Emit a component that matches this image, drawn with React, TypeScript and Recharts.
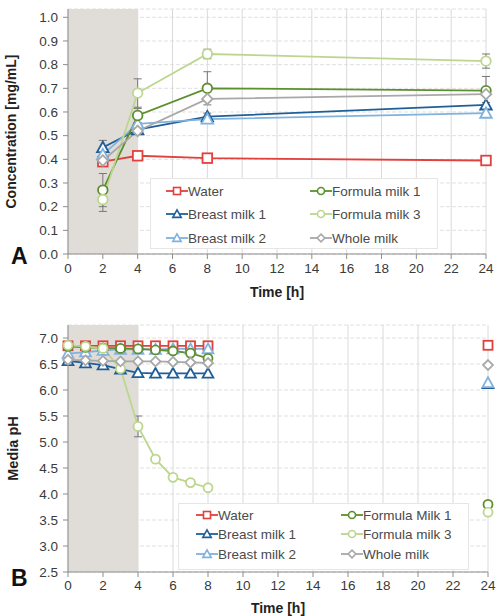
import React from "react"
import { LineChart, Line, XAxis, YAxis, CartesianGrid, ReferenceArea, ErrorBar, Label } from "recharts"

// ---- Panel A: concentration over time ----
const hoursA = [2, 4, 8, 24]
const waterA = [0.39, 0.415, 0.405, 0.395]
const breast1A = [0.45, 0.525, 0.58, 0.63]
const breast2A = [0.42, 0.55, 0.57, 0.595]
const formula1A = [0.27, 0.585, 0.7, 0.69]
const formula3A = [0.23, 0.68, 0.845, 0.815]
const wholeA = [0.395, 0.52, 0.655, 0.675]
const breast1ErrA = [0.03, 0.01, 0.015, 0.01]
const formula1ErrA = [0.07, 0.03, 0.07, 0.06]
const formula3ErrA = [0.05, 0.06, 0.02, 0.03]
const ticksYA = [0, 0.1, 0.2, 0.3, 0.4, 0.5, 0.6, 0.7, 0.8, 0.9, 1.0]

// ---- Panel B: media pH over time ----
const hoursB = [0, 1, 2, 3, 4, 5, 6, 7, 8, 24]
const waterB = [6.85, 6.85, 6.85, 6.85, 6.85, 6.85, 6.85, 6.85, 6.85, 6.86]
const breast1B = [6.56, 6.52, 6.48, 6.4, 6.33, 6.32, 6.32, 6.32, 6.32, 6.12]
const breast2B = [6.7, 6.73, 6.76, 6.78, 6.78, 6.78, 6.79, 6.79, 6.79, 6.14]
const formula1B = [6.84, 6.82, 6.81, 6.8, 6.79, 6.77, 6.75, 6.71, 6.61, 3.8]
const formula3B = [6.86, 6.84, 6.8, 6.41, 5.3, 4.67, 4.32, 4.22, 4.12, 3.65]
const wholeB = [6.58, 6.57, 6.56, 6.55, 6.55, 6.55, 6.54, 6.53, 6.52, 6.48]
const formula3ErrB = [0, 0, 0.02, 0.04, 0.2, 0.03, 0.02, 0.02, 0.02, 0.02]
const ticksYB = [2.5, 3.0, 3.5, 4.0, 4.5, 5.0, 5.5, 6.0, 6.5, 7.0]
const GAP_HOUR = 16

const ticksX = [0, 2, 4, 6, 8, 10, 12, 14, 16, 18, 20, 22, 24]

type Shape = "square" | "circle" | "triangle" | "diamond"

const SERIES: { key: string; color: string; shape: Shape }[] = [
  { key: "water", color: "#e2403d", shape: "square" },
  { key: "breast1", color: "#1f5f99", shape: "triangle" },
  { key: "breast2", color: "#80b2de", shape: "triangle" },
  { key: "formula1", color: "#5c8f2e", shape: "circle" },
  { key: "formula3", color: "#bcd68e", shape: "circle" },
  { key: "whole", color: "#a8a8a8", shape: "diamond" },
]

const NAMES_A: Record<string, string> = {
  water: "Water",
  breast1: "Breast milk 1",
  breast2: "Breast milk 2",
  formula1: "Formula milk 1",
  formula3: "Formula milk 3",
  whole: "Whole milk",
}
const NAMES_B: Record<string, string> = { ...NAMES_A, formula1: "Formula Milk 1" }

const dataA = hoursA.map((h, i) => ({
  h,
  water: waterA[i],
  breast1: breast1A[i],
  breast2: breast2A[i],
  formula1: formula1A[i],
  formula3: formula3A[i],
  whole: wholeA[i],
  breast1Err: breast1ErrA[i],
  formula1Err: formula1ErrA[i],
  formula3Err: formula3ErrA[i],
}))

const rowsB = hoursB.map((h, i) => ({
  h,
  water: waterB[i],
  breast1: breast1B[i],
  breast2: breast2B[i],
  formula1: formula1B[i],
  formula3: formula3B[i],
  whole: wholeB[i],
  formula3Err: formula3ErrB[i],
}))
// empty row so the 8 h and 24 h points are not joined
const dataB = [...rowsB.slice(0, 9), { h: GAP_HOUR }, rowsB[9]]

const FONT = "'Liberation Sans', Arial, sans-serif"
const TEXT = "#3a3a3a"

function Marker({ shape, cx, cy, color, r, sw }: { shape: Shape; cx: number; cy: number; color: string; r: number; sw: number }) {
  if (shape === "square")
    return <rect x={cx - r} y={cy - r} width={r * 2} height={r * 2} fill="#fff" stroke={color} strokeWidth={sw} />
  if (shape === "circle") return <circle cx={cx} cy={cy} r={r} fill="#fff" stroke={color} strokeWidth={sw} />
  if (shape === "triangle") {
    const h = r * 1.2
    return (
      <polygon
        points={`${cx},${cy - h} ${cx + h},${cy + h * 0.8} ${cx - h},${cy + h * 0.8}`}
        fill="#fff"
        stroke={color}
        strokeWidth={sw}
        strokeLinejoin="miter"
      />
    )
  }
  const d = r * 1.1
  return <polygon points={`${cx},${cy - d} ${cx + d},${cy} ${cx},${cy + d} ${cx - d},${cy}`} fill="#fff" stroke={color} strokeWidth={sw} />
}

function makeDot(shape: Shape, color: string, r: number) {
  return (props: any) => {
    const k = `${shape}-${color}-${props.index}`
    if (props.cx == null || props.cy == null || props.value == null) return <g key={k} />
    return (
      <g key={k}>
        <Marker shape={shape} cx={props.cx} cy={props.cy} color={color} r={r} sw={1.8} />
      </g>
    )
  }
}

function LegendBox({
  names,
  left,
  top,
  width,
  height,
  cols,
  rows,
}: {
  names: Record<string, string>
  left: number
  top: number
  width: number
  height: number
  cols: number[]
  rows: number[]
}) {
  return (
    <div
      style={{
        position: "absolute",
        left,
        top,
        width,
        height,
        background: "#fff",
        border: "1px solid #e6e6e6",
        boxSizing: "border-box",
      }}
    >
      {SERIES.map((s, i) => {
        const c = i < 3 ? 0 : 1
        const r = i % 3
        return (
          <div
            key={s.key}
            style={{
              position: "absolute",
              left: cols[c] - left,
              top: rows[r] - top - 10,
              height: 20,
              display: "flex",
              alignItems: "center",
              whiteSpace: "nowrap",
              fontFamily: FONT,
              fontSize: 13.5,
              color: "#4a4a4a",
            }}
          >
            <svg width={22} height={12} style={{ display: "block" }}>
              <line x1={0} y1={6} x2={22} y2={6} stroke={s.color} strokeWidth={1.8} />
              <Marker shape={s.shape} cx={11} cy={6} color={s.color} r={3.5} sw={1.6} />
            </svg>
            <span>{names[s.key]}</span>
          </div>
        )
      })}
    </div>
  )
}

const axisTick = { fontSize: 13.5, fill: TEXT, fontFamily: FONT }
const titleStyle = { fontSize: 14, fontWeight: 700, fill: "#222", fontFamily: FONT }

export default function App() {
  return (
    <div style={{ position: "absolute", left: 0, top: 0, width: 496, height: 616, background: "#fff", fontFamily: FONT }}>
      {/* Panel A */}
      <div style={{ position: "absolute", left: 0, top: 0 }}>
        <LineChart width={496} height={302} data={dataA} margin={{ top: 9, right: 10, left: 0, bottom: 0 }}>
          <CartesianGrid vertical={false} stroke="#e0e0e0" strokeDasharray="4 2" />
          <CartesianGrid horizontal={false} stroke="#dadada" />
          <ReferenceArea x1={0} x2={4} fill="#e0ddd8" fillOpacity={1} stroke="none" ifOverflow="hidden" />
          <XAxis
            type="number"
            dataKey="h"
            domain={[0, 24]}
            ticks={ticksX}
            interval={0}
            stroke="#8c8c8c"
            tickSize={5}
            tickMargin={4}
            tick={axisTick}
            height={48}
          >
            <Label value="Time [h]" position="insideBottom" offset={5} style={titleStyle} />
          </XAxis>
          <YAxis
            type="number"
            domain={[0, 1.035]}
            ticks={ticksYA}
            interval={0}
            allowDataOverflow
            width={68}
            stroke="#8c8c8c"
            tickSize={5}
            tickMargin={5}
            tick={axisTick}
            tickFormatter={(v: number) => v.toFixed(1)}
          >
            <Label
              value="Concentration [mg/mL]"
              angle={-90}
              position="insideLeft"
              offset={11}
              style={{ ...titleStyle, textAnchor: "middle" }}
            />
          </YAxis>
          {SERIES.map((s) => (
            <Line
              key={s.key}
              type="linear"
              dataKey={s.key}
              stroke={s.color}
              strokeWidth={1.8}
              dot={makeDot(s.shape, s.color, 4.8)}
              activeDot={false}
              isAnimationActive={false}
            >
              {(s.key === "breast1" || s.key === "formula1" || s.key === "formula3") && (
                <ErrorBar dataKey={`${s.key}Err`} width={4} strokeWidth={1} stroke="#777" direction="y" />
              )}
            </Line>
          ))}
        </LineChart>
      </div>
      <LegendBox names={NAMES_A} left={150} top={178} width={288} height={71} cols={[165, 309]} rows={[190, 213, 237]} />
      <div style={{ position: "absolute", left: 11, top: 243, fontSize: 23, fontWeight: 700, color: "#111", fontFamily: FONT }}>A</div>

      {/* Panel B */}
      <div style={{ position: "absolute", left: 0, top: 310 }}>
        <LineChart width={496} height={306} data={dataB} margin={{ top: 15, right: 8, left: 0, bottom: 0 }}>
          <CartesianGrid vertical={false} stroke="#e0e0e0" strokeDasharray="4 2" />
          <CartesianGrid horizontal={false} stroke="#dadada" />
          <ReferenceArea x1={0} x2={4} fill="#e0ddd8" fillOpacity={1} stroke="none" ifOverflow="hidden" />
          <XAxis
            type="number"
            dataKey="h"
            domain={[0, 24]}
            ticks={ticksX}
            interval={0}
            stroke="#8c8c8c"
            tickSize={5}
            tickMargin={3}
            tick={axisTick}
            height={44}
          >
            <Label value="Time [h]" position="insideBottom" offset={3} style={titleStyle} />
          </XAxis>
          <YAxis
            type="number"
            domain={[2.5, 7.25]}
            ticks={ticksYB}
            interval={0}
            allowDataOverflow
            width={68}
            stroke="#8c8c8c"
            tickSize={5}
            tickMargin={5}
            tick={axisTick}
            tickFormatter={(v: number) => v.toFixed(1)}
          >
            <Label
              value="Media pH"
              angle={-90}
              position="insideLeft"
              offset={13}
              style={{ ...titleStyle, fontSize: 14.5, textAnchor: "middle" }}
            />
          </YAxis>
          {SERIES.map((s) => (
            <Line
              key={s.key}
              type="linear"
              dataKey={s.key}
              stroke={s.color}
              strokeWidth={1.8}
              dot={makeDot(s.shape, s.color, 4.5)}
              activeDot={false}
              connectNulls={false}
              isAnimationActive={false}
            >
              {s.key === "formula3" && <ErrorBar dataKey="formula3Err" width={4} strokeWidth={1} stroke="#777" direction="y" />}
            </Line>
          ))}
        </LineChart>
      </div>
      <LegendBox names={NAMES_B} left={178} top={503} width={291} height={67} cols={[195, 340]} rows={[514, 533, 553]} />
      <div style={{ position: "absolute", left: 11, top: 565, fontSize: 23, fontWeight: 700, color: "#111", fontFamily: FONT }}>B</div>
    </div>
  )
}
